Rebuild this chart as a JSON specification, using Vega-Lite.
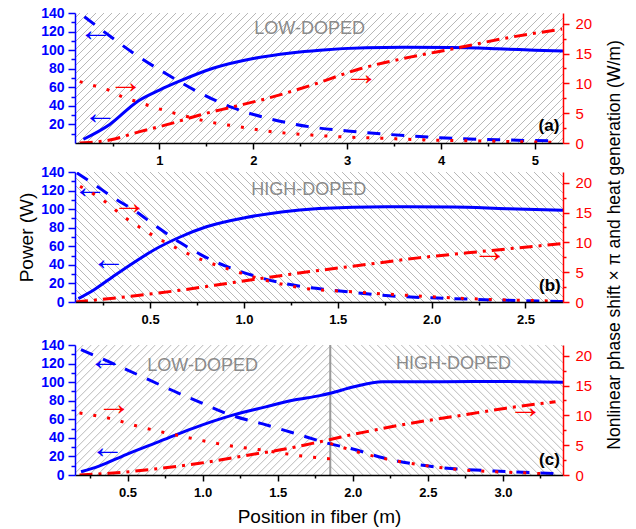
{
"$schema":"https://vega.github.io/schema/vega-lite/v6.json",
"padding":{"left":17,"top":6,"right":5,"bottom":5},
"title":{"text":"Nonlinear phase shift × π  and heat generation  (W/m)","orient":"right","anchor":"middle","angle":270,"fontSize":17.5,"font":"Liberation Sans","fontWeight":"normal","color":"#000000","offset":-3,"dx":21},
"spacing":-2,
"bounds":"full",
"datasets":{
"a":[
{"s":"P","x":0.19,"y":4},{"s":"P","x":0.47,"y":20},{"s":"P","x":0.77,"y":45},{"s":"P","x":1.0,"y":57},{"s":"P","x":1.2,"y":66},{"s":"P","x":1.57,"y":80.5},{"s":"P","x":2.0,"y":91},{"s":"P","x":2.4,"y":97},{"s":"P","x":2.71,"y":100},{"s":"P","x":3.2,"y":102.5},{"s":"P","x":3.6,"y":103},{"s":"P","x":4.1,"y":102.8},{"s":"P","x":4.6,"y":101.5},{"s":"P","x":5.0,"y":100},{"s":"P","x":5.3,"y":99},
{"s":"D","x":0.2,"y":136},{"s":"D","x":0.5,"y":113},{"s":"D","x":0.72,"y":97},{"s":"D","x":1.08,"y":74},{"s":"D","x":1.43,"y":54},{"s":"D","x":1.78,"y":38},{"s":"D","x":2.14,"y":27},{"s":"D","x":2.6,"y":17.5},{"s":"D","x":3.0,"y":13},{"s":"D","x":3.42,"y":9.4},{"s":"D","x":4.12,"y":5},{"s":"D","x":4.6,"y":3.5},{"s":"D","x":5.2,"y":2.2},
{"s":"H","x":0.15,"y":10.3},{"s":"H","x":0.33,"y":9.5},{"s":"H","x":0.47,"y":8.8},{"s":"H","x":0.61,"y":7.7},{"s":"H","x":0.77,"y":6.9},{"s":"H","x":0.93,"y":6.05},{"s":"H","x":1.23,"y":4.7},{"s":"H","x":1.53,"y":3.55},{"s":"H","x":1.86,"y":2.7},{"s":"H","x":2.14,"y":2.0},{"s":"H","x":2.62,"y":1.33},{"s":"H","x":2.92,"y":1.05},{"s":"H","x":3.35,"y":0.8},{"s":"H","x":3.88,"y":0.5},{"s":"H","x":4.48,"y":0.33},{"s":"H","x":5.19,"y":0.1},
{"s":"N","x":0.15,"y":0},{"s":"N","x":0.47,"y":0.5},{"s":"N","x":0.79,"y":1.9},{"s":"N","x":1.11,"y":3.2},{"s":"N","x":1.43,"y":4.7},{"s":"N","x":1.78,"y":6.05},{"s":"N","x":2.14,"y":7.45},{"s":"N","x":2.6,"y":9.6},{"s":"N","x":3.14,"y":12.45},{"s":"N","x":3.67,"y":14.4},{"s":"N","x":4.13,"y":15.8},{"s":"N","x":4.73,"y":17.7},{"s":"N","x":5.29,"y":19.1}
],
"b":[
{"s":"P","x":0.118,"y":3.7},{"s":"P","x":0.2,"y":13},{"s":"P","x":0.3,"y":27},{"s":"P","x":0.41,"y":42},{"s":"P","x":0.52,"y":56},{"s":"P","x":0.66,"y":70},{"s":"P","x":0.8,"y":81},{"s":"P","x":1.01,"y":91},{"s":"P","x":1.2,"y":97},{"s":"P","x":1.4,"y":100.6},{"s":"P","x":1.76,"y":102.7},{"s":"P","x":2.11,"y":102.3},{"s":"P","x":2.4,"y":100.5},{"s":"P","x":2.7,"y":98.8},
{"s":"D","x":0.11,"y":139},{"s":"D","x":0.2,"y":127},{"s":"D","x":0.3,"y":113},{"s":"D","x":0.42,"y":98},{"s":"D","x":0.53,"y":82},{"s":"D","x":0.66,"y":64},{"s":"D","x":0.78,"y":50},{"s":"D","x":0.9,"y":39},{"s":"D","x":1.05,"y":28.5},{"s":"D","x":1.19,"y":21},{"s":"D","x":1.33,"y":16},{"s":"D","x":1.46,"y":13},{"s":"D","x":1.79,"y":6.5},{"s":"D","x":2.11,"y":3.7},{"s":"D","x":2.4,"y":1.8},{"s":"D","x":2.7,"y":0.5},
{"s":"H","x":0.127,"y":19.4},{"s":"H","x":0.23,"y":17.5},{"s":"H","x":0.37,"y":14.1},{"s":"H","x":0.6,"y":9.7},{"s":"H","x":0.77,"y":7.15},{"s":"H","x":0.94,"y":5.3},{"s":"H","x":1.12,"y":3.6},{"s":"H","x":1.3,"y":2.4},{"s":"H","x":1.58,"y":1.7},{"s":"H","x":1.83,"y":1.2},{"s":"H","x":2.29,"y":0.45},{"s":"H","x":2.64,"y":0.17},
{"s":"N","x":0.1,"y":0},{"s":"N","x":0.41,"y":1.0},{"s":"N","x":0.69,"y":2.1},{"s":"N","x":0.94,"y":3.25},{"s":"N","x":1.4,"y":5.3},{"s":"N","x":1.58,"y":6.0},{"s":"N","x":1.93,"y":7.4},{"s":"N","x":2.29,"y":8.55},{"s":"N","x":2.7,"y":9.8}
],
"c":[
{"s":"P","x":0.19,"y":3.5},{"s":"P","x":0.31,"y":9.6},{"s":"P","x":0.49,"y":22},{"s":"P","x":0.71,"y":36},{"s":"P","x":0.93,"y":50},{"s":"P","x":1.2,"y":64.5},{"s":"P","x":1.42,"y":73.4},{"s":"P","x":1.6,"y":80.5},{"s":"P","x":1.78,"y":85.5},{"s":"P","x":1.85,"y":88},{"s":"P","x":2.0,"y":94.7},{"s":"P","x":2.2,"y":100.5},{"s":"P","x":2.6,"y":100.5},{"s":"P","x":3.0,"y":100.8},{"s":"P","x":3.4,"y":100},
{"s":"D","x":0.19,"y":135},{"s":"D","x":0.5,"y":113},{"s":"D","x":0.8,"y":91},{"s":"D","x":1.0,"y":77},{"s":"D","x":1.18,"y":65},{"s":"D","x":1.4,"y":55},{"s":"D","x":1.6,"y":45.5},{"s":"D","x":1.85,"y":33.5},{"s":"D","x":2.0,"y":28},{"s":"D","x":2.2,"y":18.5},{"s":"D","x":2.56,"y":8.5},{"s":"D","x":2.94,"y":4.3},{"s":"D","x":3.4,"y":1.4},
{"s":"H1","x":0.18,"y":10.4},{"s":"H1","x":0.38,"y":9.5},{"s":"H1","x":0.58,"y":8.1},{"s":"H1","x":0.87,"y":6.45},{"s":"H1","x":1.16,"y":5.0},{"s":"H1","x":1.42,"y":4.1},{"s":"H1","x":1.64,"y":3.25},{"s":"H1","x":1.85,"y":2.7},
{"s":"H2","x":1.85,"y":5.3},{"s":"H2","x":2.0,"y":4.1},{"s":"H2","x":2.1,"y":3.4},{"s":"H2","x":2.22,"y":2.7},{"s":"H2","x":2.45,"y":1.7},{"s":"H2","x":2.67,"y":1.0},{"s":"H2","x":2.9,"y":0.6},{"s":"H2","x":3.1,"y":0.4},{"s":"H2","x":3.32,"y":0.17},
{"s":"N","x":0.18,"y":0},{"s":"N","x":0.38,"y":0.28},{"s":"N","x":0.62,"y":0.84},{"s":"N","x":0.98,"y":1.97},{"s":"N","x":1.31,"y":3.36},{"s":"N","x":1.6,"y":4.6},{"s":"N","x":1.73,"y":5.3},{"s":"N","x":1.85,"y":5.95},{"s":"N","x":2.0,"y":6.8},{"s":"N","x":2.14,"y":7.5},{"s":"N","x":2.3,"y":8.3},{"s":"N","x":2.67,"y":9.8},{"s":"N","x":3.02,"y":11.2},{"s":"N","x":3.35,"y":12.3}
],
"ann":[
{"p":"a","k":"bl","x":0.32,"y":116.8,"t":"←"},{"p":"a","k":"bl","x":0.37,"y":27,"t":"←"},{"p":"a","k":"rd","x":0.64,"y":9.4,"t":"→"},{"p":"a","k":"rd","x":3.15,"y":10.8,"t":"→"},{"p":"a","k":"lab","x":2.6,"y":122.6,"t":"LOW-DOPED"},{"p":"a","k":"tag","x":5.15,"y":18,"t":"(a)"},
{"p":"b","k":"bl","x":0.18,"y":118,"t":"←"},{"p":"b","k":"bl","x":0.28,"y":40.6,"t":"←"},{"p":"b","k":"rd","x":0.39,"y":15.8,"t":"→"},{"p":"b","k":"rd","x":2.31,"y":7.7,"t":"→"},{"p":"b","k":"lab","x":1.345,"y":121,"t":"HIGH-DOPED"},{"p":"b","k":"tag","x":2.63,"y":17.5,"t":"(b)"},
{"p":"c","k":"bl","x":0.355,"y":119.6,"t":"←"},{"p":"c","k":"bl","x":0.367,"y":25,"t":"←"},{"p":"c","k":"rd","x":0.41,"y":11.1,"t":"→"},{"p":"c","k":"rd","x":3.15,"y":10.5,"t":"→"},{"p":"c","k":"lab","x":1.0,"y":117.7,"t":"LOW-DOPED"},{"p":"c","k":"lab","x":2.67,"y":119.5,"t":"HIGH-DOPED"},{"p":"c","k":"tag","x":3.31,"y":16.6,"t":"(c)"},{"p":"c","k":"bd","x":1.85,"y":0,"t":""}
]
},
"vconcat":[
{
"width":488,"height":130,
"data":{"name":"a"},
"layer":[
{"layer":[
{"data":{"values":[{}]},"mark":{"type":"point","shape":"M-31,-9l-18,18m19,-18l-18,18m19,-18l-18,18m19,-18l-18,18m19,-18l-18,18m19,-18l-18,18m19,-18l-18,18m19,-18l-18,18m19,-18l-18,18m19,-18l-18,18m19,-18l-18,18m19,-18l-18,18m19,-18l-18,18m19,-18l-18,18m19,-18l-18,18m19,-18l-18,18m19,-18l-18,18m19,-18l-18,18m19,-18l-18,18m19,-18l-18,18m19,-18l-18,18m19,-18l-18,18m19,-18l-18,18m19,-18l-18,18m19,-18l-18,18m19,-18l-18,18m19,-18l-18,18m19,-18l-18,18m19,-18l-18,18m19,-18l-18,18m19,-18l-18,18m19,-18l-18,18m19,-18l-18,18m19,-18l-18,18m19,-18l-18,18m19,-18l-18,18m19,-18l-18,18m19,-18l-18,18m19,-18l-18,18m19,-18l-18,18m19,-18l-18,18m19,-18l-18,18m19,-18l-18,18m19,-18l-18,18m19,-18l-18,18m19,-18l-18,18m19,-18l-18,18m19,-18l-18,18m19,-18l-18,18m19,-18l-18,18m19,-18l-18,18m19,-18l-18,18m19,-18l-18,18m19,-18l-18,18m19,-18l-18,18m19,-18l-18,18m19,-18l-18,18m19,-18l-18,18m19,-18l-18,18m19,-18l-18,18m19,-18l-18,18m19,-18l-18,18m19,-18l-18,18m19,-18l-18,18m19,-18l-18,18m19,-18l-18,18m19,-18l-18,18m19,-18l-18,18m19,-18l-18,18m19,-18l-18,18m19,-18l-18,18m19,-18l-18,18m19,-18l-18,18m19,-18l-18,18m19,-18l-18,18m19,-18l-18,18m19,-18l-18,18m19,-18l-18,18m19,-18l-18,18m19,-18","size":256,"filled":false,"color":"#b0b0b0","strokeWidth":0.9,"opacity":1,"clip":true},
 "encoding":{"x":{"datum":2.7,"type":"quantitative","scale":{"domain":[0.1,5.3],"nice":false,"zero":false},"axis":{"orient":"bottom","values":[1,2,3,4,5],"title":null,"labelColor":"#000000","labelFontSize":13,"labelFontWeight":"bold","labelPadding":5,"labelFlush":false,"domainColor":"#000000","domainWidth":1.5,"tickColor":"#000000","tickSize":6,"tickWidth":1.5,"grid":false,"zindex":1}},
 "y":{"datum":70,"type":"quantitative","scale":{"domain":[0,140],"nice":false,"zero":false},"axis":{"orient":"left","values":[20,40,60,80,100,120,140],"title":null,"labelColor":"#0000ff","labelFontSize":14,"labelFontWeight":"bold","labelPadding":4,"domainColor":"#0000ff","domainWidth":1.5,"tickColor":"#0000ff","tickSize":7,"tickWidth":1.5,"grid":false,"zindex":1}}}},
{"transform":[{"filter":"datum.s==='P'"}],"mark":{"type":"line","color":"#0000ff","strokeWidth":3,"interpolate":"monotone","clip":true},
 "encoding":{"x":{"field":"x","type":"quantitative","axis":{"orient":"bottom","values":[0.5,1.5,2.5,3.5,4.5],"title":null,"labels":false,"domain":false,"tickColor":"#000000","tickSize":3,"tickWidth":1.5,"grid":false,"zindex":1}},"y":{"field":"y","type":"quantitative","axis":{"orient":"left","values":[10,30,50,70,90,110,130],"title":null,"labels":false,"domain":false,"tickColor":"#0000ff","tickSize":4,"tickWidth":1.5,"grid":false,"zindex":1}}}},
{"transform":[{"filter":"datum.s==='D'"}],"mark":{"type":"line","color":"#0000ff","strokeWidth":3,"strokeDash":[13,11],"interpolate":"monotone","clip":true},
 "encoding":{"x":{"field":"x","type":"quantitative","axis":null},"y":{"field":"y","type":"quantitative","axis":null}}},
{"data":{"name":"ann"},"transform":[{"filter":"datum.p==='a' && datum.k==='bl'"}],"mark":{"type":"text","color":"#0000ff","fontSize":34,"dy":-4,"font":"Liberation Sans"},
 "encoding":{"x":{"field":"x","type":"quantitative","axis":null},"y":{"field":"y","type":"quantitative","axis":null},"text":{"field":"t"}}},
{"data":{"name":"ann"},"transform":[{"filter":"datum.p==='a' && datum.k==='lab'"}],"mark":{"type":"text","color":"#8a8a8a","fontSize":18,"font":"Liberation Sans"},
 "encoding":{"x":{"field":"x","type":"quantitative","axis":null},"y":{"field":"y","type":"quantitative","axis":null},"text":{"field":"t"}}},
{"data":{"name":"ann"},"transform":[{"filter":"datum.p==='a' && datum.k==='tag'"}],"mark":{"type":"text","color":"#000000","fontSize":17,"fontWeight":"bold","font":"Liberation Sans"},
 "encoding":{"x":{"field":"x","type":"quantitative","axis":null},"y":{"field":"y","type":"quantitative","axis":null},"text":{"field":"t"}}}
],
"resolve":{"axis":{"x":"independent","y":"independent"}}},
{"layer":[
{"transform":[{"filter":"datum.s==='H'"}],"mark":{"type":"line","color":"#ff0000","strokeWidth":3,"strokeDash":[3,11],"interpolate":"monotone","clip":true},
 "encoding":{"x":{"field":"x","type":"quantitative","axis":{"orient":"top","values":[1,2,3,4,5],"title":null,"labels":false,"domainColor":"#000000","domainWidth":1.5,"tickColor":"#000000","tickSize":-4,"tickWidth":1.5,"grid":false,"zindex":1}},
 "y":{"field":"y","type":"quantitative","scale":{"domain":[0,21.8],"nice":false,"zero":false},"axis":{"orient":"right","values":[0,5,10,15,20],"title":null,"labelColor":"#ff0000","labelFontSize":15,"labelPadding":6,"domainColor":"#ff0000","domainWidth":1.5,"tickColor":"#ff0000","tickSize":6,"tickWidth":1.5,"grid":false,"zindex":1}}}},
{"transform":[{"filter":"datum.s==='N'"}],"mark":{"type":"line","color":"#ff0000","strokeWidth":3,"strokeDash":[13,6,3,6],"interpolate":"monotone","clip":true},
 "encoding":{"x":{"field":"x","type":"quantitative","axis":null},"y":{"field":"y","type":"quantitative","axis":{"orient":"right","values":[2.5,7.5,12.5,17.5],"title":null,"labels":false,"domain":false,"tickColor":"#ff0000","tickSize":3,"tickWidth":1.5,"grid":false,"zindex":1}}}},
{"data":{"name":"ann"},"transform":[{"filter":"datum.p==='a' && datum.k==='rd'"}],"mark":{"type":"text","color":"#ff0000","fontSize":34,"dy":-4,"font":"Liberation Sans"},
 "encoding":{"x":{"field":"x","type":"quantitative","axis":null},"y":{"field":"y","type":"quantitative","axis":null},"text":{"field":"t"}}}
],
"resolve":{"axis":{"y":"independent"}}}
],
"resolve":{"scale":{"y":"independent"},"axis":{"x":"independent","y":"independent"}}
},
{
"width":488,"height":130,
"data":{"name":"b"},
"layer":[
{"layer":[
{"data":{"values":[{}]},"mark":{"type":"point","shape":"M-49,-9l18,18m-17,-18l18,18m-17,-18l18,18m-17,-18l18,18m-17,-18l18,18m-17,-18l18,18m-17,-18l18,18m-17,-18l18,18m-17,-18l18,18m-17,-18l18,18m-17,-18l18,18m-17,-18l18,18m-17,-18l18,18m-17,-18l18,18m-17,-18l18,18m-17,-18l18,18m-17,-18l18,18m-17,-18l18,18m-17,-18l18,18m-17,-18l18,18m-17,-18l18,18m-17,-18l18,18m-17,-18l18,18m-17,-18l18,18m-17,-18l18,18m-17,-18l18,18m-17,-18l18,18m-17,-18l18,18m-17,-18l18,18m-17,-18l18,18m-17,-18l18,18m-17,-18l18,18m-17,-18l18,18m-17,-18l18,18m-17,-18l18,18m-17,-18l18,18m-17,-18l18,18m-17,-18l18,18m-17,-18l18,18m-17,-18l18,18m-17,-18l18,18m-17,-18l18,18m-17,-18l18,18m-17,-18l18,18m-17,-18l18,18m-17,-18l18,18m-17,-18l18,18m-17,-18l18,18m-17,-18l18,18m-17,-18l18,18m-17,-18l18,18m-17,-18l18,18m-17,-18l18,18m-17,-18l18,18m-17,-18l18,18m-17,-18l18,18m-17,-18l18,18m-17,-18l18,18m-17,-18l18,18m-17,-18l18,18m-17,-18l18,18m-17,-18l18,18m-17,-18l18,18m-17,-18l18,18m-17,-18l18,18m-17,-18l18,18m-17,-18l18,18m-17,-18l18,18m-17,-18l18,18m-17,-18l18,18m-17,-18l18,18m-17,-18l18,18m-17,-18l18,18m-17,-18l18,18m-17,-18l18,18m-17,-18l18,18m-17,-18l18,18m-17,-18l18,18m-17,-18l18,18m-17,-18l18,18m-17,-18","size":256,"filled":false,"color":"#b0b0b0","strokeWidth":0.9,"opacity":1,"clip":true},
 "encoding":{"x":{"datum":1.4,"type":"quantitative","scale":{"domain":[0.1,2.7],"nice":false,"zero":false},"axis":{"orient":"bottom","values":[0.5,1,1.5,2,2.5],"format":".1f","title":null,"labelColor":"#000000","labelFontSize":13,"labelFontWeight":"bold","labelPadding":5,"labelFlush":false,"domainColor":"#000000","domainWidth":1.5,"tickColor":"#000000","tickSize":6,"tickWidth":1.5,"grid":false,"zindex":1,"minExtent":38}},
 "y":{"datum":70,"type":"quantitative","scale":{"domain":[0,140],"nice":false,"zero":false},"axis":{"orient":"left","values":[0,20,40,60,80,100,120,140],"title":"Power (W)","titleFont":"Liberation Sans","titleFontSize":19,"titleFontWeight":"normal","titleColor":"#000000","titlePadding":4,"labelColor":"#0000ff","labelFontSize":14,"labelFontWeight":"bold","labelPadding":4,"domainColor":"#0000ff","domainWidth":1.5,"tickColor":"#0000ff","tickSize":7,"tickWidth":1.5,"grid":false,"zindex":1}}}},
{"transform":[{"filter":"datum.s==='P'"}],"mark":{"type":"line","color":"#0000ff","strokeWidth":3,"interpolate":"monotone","clip":true},
 "encoding":{"x":{"field":"x","type":"quantitative","axis":{"orient":"bottom","values":[0.25,0.75,1.25,1.75,2.25],"title":null,"labels":false,"domain":false,"tickColor":"#000000","tickSize":3,"tickWidth":1.5,"grid":false,"zindex":1}},"y":{"field":"y","type":"quantitative","axis":{"orient":"left","values":[10,30,50,70,90,110,130],"title":null,"labels":false,"domain":false,"tickColor":"#0000ff","tickSize":4,"tickWidth":1.5,"grid":false,"zindex":1}}}},
{"transform":[{"filter":"datum.s==='D'"}],"mark":{"type":"line","color":"#0000ff","strokeWidth":3,"strokeDash":[13,11],"interpolate":"monotone","clip":true},
 "encoding":{"x":{"field":"x","type":"quantitative","axis":null},"y":{"field":"y","type":"quantitative","axis":null}}},
{"data":{"name":"ann"},"transform":[{"filter":"datum.p==='b' && datum.k==='bl'"}],"mark":{"type":"text","color":"#0000ff","fontSize":34,"dy":-4,"font":"Liberation Sans"},
 "encoding":{"x":{"field":"x","type":"quantitative","axis":null},"y":{"field":"y","type":"quantitative","axis":null},"text":{"field":"t"}}},
{"data":{"name":"ann"},"transform":[{"filter":"datum.p==='b' && datum.k==='lab'"}],"mark":{"type":"text","color":"#8a8a8a","fontSize":18,"font":"Liberation Sans"},
 "encoding":{"x":{"field":"x","type":"quantitative","axis":null},"y":{"field":"y","type":"quantitative","axis":null},"text":{"field":"t"}}},
{"data":{"name":"ann"},"transform":[{"filter":"datum.p==='b' && datum.k==='tag'"}],"mark":{"type":"text","color":"#000000","fontSize":17,"fontWeight":"bold","font":"Liberation Sans"},
 "encoding":{"x":{"field":"x","type":"quantitative","axis":null},"y":{"field":"y","type":"quantitative","axis":null},"text":{"field":"t"}}}
],
"resolve":{"axis":{"x":"independent","y":"independent"}}},
{"layer":[
{"transform":[{"filter":"datum.s==='H'"}],"mark":{"type":"line","color":"#ff0000","strokeWidth":3,"strokeDash":[3,11],"interpolate":"monotone","clip":true},
 "encoding":{"x":{"field":"x","type":"quantitative","axis":{"orient":"top","values":[0.5,1,1.5,2,2.5],"title":null,"labels":false,"domainColor":"#000000","domainWidth":1.5,"tickColor":"#000000","tickSize":-4,"tickWidth":1.5,"grid":false,"zindex":1}},
 "y":{"field":"y","type":"quantitative","scale":{"domain":[0,21.8],"nice":false,"zero":false},"axis":{"orient":"right","values":[0,5,10,15,20],"title":null,"labelColor":"#ff0000","labelFontSize":15,"labelPadding":6,"domainColor":"#ff0000","domainWidth":1.5,"tickColor":"#ff0000","tickSize":6,"tickWidth":1.5,"grid":false,"zindex":1}}}},
{"transform":[{"filter":"datum.s==='N'"}],"mark":{"type":"line","color":"#ff0000","strokeWidth":3,"strokeDash":[13,6,3,6],"interpolate":"monotone","clip":true},
 "encoding":{"x":{"field":"x","type":"quantitative","axis":null},"y":{"field":"y","type":"quantitative","axis":{"orient":"right","values":[2.5,7.5,12.5,17.5],"title":null,"labels":false,"domain":false,"tickColor":"#ff0000","tickSize":3,"tickWidth":1.5,"grid":false,"zindex":1}}}},
{"data":{"name":"ann"},"transform":[{"filter":"datum.p==='b' && datum.k==='rd'"}],"mark":{"type":"text","color":"#ff0000","fontSize":34,"dy":-4,"font":"Liberation Sans"},
 "encoding":{"x":{"field":"x","type":"quantitative","axis":null},"y":{"field":"y","type":"quantitative","axis":null},"text":{"field":"t"}}}
],
"resolve":{"axis":{"y":"independent"}}}
],
"resolve":{"scale":{"y":"independent"},"axis":{"x":"independent","y":"independent"}}
},
{
"width":488,"height":130,
"data":{"name":"c"},
"layer":[
{"layer":[
{"data":{"values":[{}]},"mark":{"type":"point","shape":"M-31,-9l-18,18m19,-18l-18,18m19,-18l-18,18m19,-18l-18,18m19,-18l-18,18m19,-18l-18,18m19,-18l-18,18m19,-18l-18,18m19,-18l-18,18m19,-18l-18,18m19,-18l-18,18m19,-18l-18,18m19,-18l-18,18m19,-18l-18,18m19,-18l-18,18m19,-18l-18,18m19,-18l-18,18m19,-18l-18,18m19,-18l-18,18m19,-18l-18,18m19,-18l-18,18m19,-18l-18,18m19,-18l-18,18m19,-18l-18,18m19,-18l-18,18m19,-18l-18,18m19,-18l-18,18m19,-18l-18,18m19,-18l-18,18m19,-18l-18,18m19,-18l-18,18m19,-18l-18,18m19,-18M0,-8l-17,17M0,-7l-16,16M0,-6l-15,15M0,-5l-14,14M0,-4l-13,13M0,-3l-12,12M0,-2l-11,11M0,-1l-10,10M0,0l-9,9M0,1l-8,8M0,2l-7,7M0,3l-6,6M0,4l-5,5M0,5l-4,4M0,6l-3,3M0,7l-2,2M0,8l-1,1","size":256,"filled":false,"color":"#b0b0b0","strokeWidth":0.9,"opacity":1,"clip":true},
 "encoding":{"x":{"datum":1.85,"type":"quantitative","scale":{"domain":[0.15,3.4],"nice":false,"zero":false},"axis":{"orient":"bottom","values":[0.5,1,1.5,2,2.5,3],"format":".1f","title":"Position in fiber (m)","titleFont":"Liberation Sans","titleFontSize":19,"titleFontWeight":"normal","titleColor":"#000000","titlePadding":8,"labelColor":"#000000","labelFontSize":13,"labelFontWeight":"bold","labelPadding":5,"labelFlush":false,"domainColor":"#000000","domainWidth":1.5,"tickColor":"#000000","tickSize":6,"tickWidth":1.5,"grid":false,"zindex":1}},
 "y":{"datum":70,"type":"quantitative","scale":{"domain":[0,140],"nice":false,"zero":false},"axis":{"orient":"left","values":[0,20,40,60,80,100,120,140],"title":null,"labelColor":"#0000ff","labelFontSize":14,"labelFontWeight":"bold","labelPadding":4,"domainColor":"#0000ff","domainWidth":1.5,"tickColor":"#0000ff","tickSize":7,"tickWidth":1.5,"grid":false,"zindex":1}}}},
{"data":{"values":[{}]},"mark":{"type":"point","shape":"M0,8l1,1M0,7l2,2M0,6l3,3M0,5l4,4M0,4l5,5M0,3l6,6M0,2l7,7M0,1l8,8M0,0l9,9M0,-1l10,10M0,-2l11,11M0,-3l12,12M0,-4l13,13M0,-5l14,14M0,-6l15,15M0,-7l16,16M0,-8l17,17M0,-9l18,18m-17,-18l18,18m-17,-18l18,18m-17,-18l18,18m-17,-18l18,18m-17,-18l18,18m-17,-18l18,18m-17,-18l18,18m-17,-18l18,18m-17,-18l18,18m-17,-18l18,18m-17,-18l18,18m-17,-18l18,18m-17,-18l18,18m-17,-18l18,18m-17,-18l18,18m-17,-18l18,18m-17,-18l18,18m-17,-18l18,18m-17,-18l18,18m-17,-18l18,18m-17,-18l18,18m-17,-18l18,18m-17,-18l18,18m-17,-18l18,18m-17,-18l18,18m-17,-18l18,18m-17,-18l18,18m-17,-18l18,18m-17,-18l18,18m-17,-18l18,18m-17,-18","size":256,"filled":false,"color":"#b0b0b0","strokeWidth":0.9,"opacity":1,"clip":true},
 "encoding":{"x":{"datum":1.85,"type":"quantitative","axis":null},"y":{"datum":70,"type":"quantitative","axis":null}}},
{"data":{"name":"ann"},"transform":[{"filter":"datum.p==='c' && datum.k==='bd'"}],"mark":{"type":"rule","color":"#999999","strokeWidth":2},
 "encoding":{"x":{"field":"x","type":"quantitative","axis":null}}},
{"transform":[{"filter":"datum.s==='P'"}],"mark":{"type":"line","color":"#0000ff","strokeWidth":3,"interpolate":"monotone","clip":true},
 "encoding":{"x":{"field":"x","type":"quantitative","axis":{"orient":"bottom","values":[0.25,0.75,1.25,1.75,2.25,2.75,3.25],"title":null,"labels":false,"domain":false,"tickColor":"#000000","tickSize":3,"tickWidth":1.5,"grid":false,"zindex":1}},"y":{"field":"y","type":"quantitative","axis":{"orient":"left","values":[10,30,50,70,90,110,130],"title":null,"labels":false,"domain":false,"tickColor":"#0000ff","tickSize":4,"tickWidth":1.5,"grid":false,"zindex":1}}}},
{"transform":[{"filter":"datum.s==='D'"}],"mark":{"type":"line","color":"#0000ff","strokeWidth":3,"strokeDash":[13,11],"interpolate":"monotone","clip":true},
 "encoding":{"x":{"field":"x","type":"quantitative","axis":null},"y":{"field":"y","type":"quantitative","axis":null}}},
{"data":{"name":"ann"},"transform":[{"filter":"datum.p==='c' && datum.k==='bl'"}],"mark":{"type":"text","color":"#0000ff","fontSize":34,"dy":-4,"font":"Liberation Sans"},
 "encoding":{"x":{"field":"x","type":"quantitative","axis":null},"y":{"field":"y","type":"quantitative","axis":null},"text":{"field":"t"}}},
{"data":{"name":"ann"},"transform":[{"filter":"datum.p==='c' && datum.k==='lab'"}],"mark":{"type":"text","color":"#8a8a8a","fontSize":18,"font":"Liberation Sans"},
 "encoding":{"x":{"field":"x","type":"quantitative","axis":null},"y":{"field":"y","type":"quantitative","axis":null},"text":{"field":"t"}}},
{"data":{"name":"ann"},"transform":[{"filter":"datum.p==='c' && datum.k==='tag'"}],"mark":{"type":"text","color":"#000000","fontSize":17,"fontWeight":"bold","font":"Liberation Sans"},
 "encoding":{"x":{"field":"x","type":"quantitative","axis":null},"y":{"field":"y","type":"quantitative","axis":null},"text":{"field":"t"}}}
],
"resolve":{"axis":{"x":"independent","y":"independent"}}},
{"layer":[
{"transform":[{"filter":"datum.s==='H1'"}],"mark":{"type":"line","color":"#ff0000","strokeWidth":3,"strokeDash":[3,11],"interpolate":"monotone","clip":true},
 "encoding":{"x":{"field":"x","type":"quantitative","axis":{"orient":"top","values":[0.5,1,1.5,2,2.5,3],"title":null,"labels":false,"domainColor":"#000000","domainWidth":1.5,"tickColor":"#000000","tickSize":-4,"tickWidth":1.5,"grid":false,"zindex":1}},
 "y":{"field":"y","type":"quantitative","scale":{"domain":[0,21.8],"nice":false,"zero":false},"axis":{"orient":"right","values":[0,5,10,15,20],"title":null,"labelColor":"#ff0000","labelFontSize":15,"labelPadding":6,"domainColor":"#ff0000","domainWidth":1.5,"tickColor":"#ff0000","tickSize":6,"tickWidth":1.5,"grid":false,"zindex":1}}}},
{"transform":[{"filter":"datum.s==='H2'"}],"mark":{"type":"line","color":"#ff0000","strokeWidth":3,"strokeDash":[3,11],"interpolate":"monotone","clip":true},
 "encoding":{"x":{"field":"x","type":"quantitative","axis":null},"y":{"field":"y","type":"quantitative","axis":null}}},
{"transform":[{"filter":"datum.s==='N'"}],"mark":{"type":"line","color":"#ff0000","strokeWidth":3,"strokeDash":[13,6,3,6],"interpolate":"monotone","clip":true},
 "encoding":{"x":{"field":"x","type":"quantitative","axis":null},"y":{"field":"y","type":"quantitative","axis":{"orient":"right","values":[2.5,7.5,12.5,17.5],"title":null,"labels":false,"domain":false,"tickColor":"#ff0000","tickSize":3,"tickWidth":1.5,"grid":false,"zindex":1}}}},
{"data":{"name":"ann"},"transform":[{"filter":"datum.p==='c' && datum.k==='rd'"}],"mark":{"type":"text","color":"#ff0000","fontSize":34,"dy":-4,"font":"Liberation Sans"},
 "encoding":{"x":{"field":"x","type":"quantitative","axis":null},"y":{"field":"y","type":"quantitative","axis":null},"text":{"field":"t"}}}
],
"resolve":{"axis":{"y":"independent"}}}
],
"resolve":{"scale":{"y":"independent"},"axis":{"x":"independent","y":"independent"}}
}
],
"config":{"view":{"stroke":null},"font":"Liberation Sans","axis":{"grid":false,"labelFont":"Liberation Sans","titleFont":"Liberation Sans"}}
}
